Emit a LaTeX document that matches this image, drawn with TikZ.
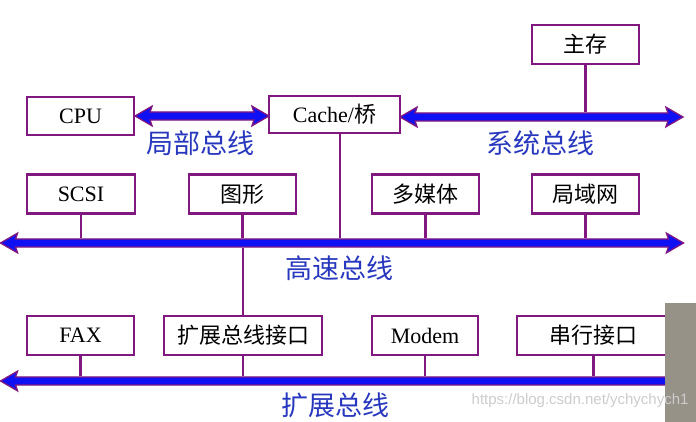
\documentclass[tikz,border=0pt]{standalone}
\usepackage{fontspec}
\setmainfont{Liberation Serif}
\newfontfamily\cjk{Noto Sans CJK SC}
\newfontfamily\wmark{Liberation Sans}
\usetikzlibrary{shapes.arrows,positioning}

\definecolor{edgepurple}{RGB}{128,24,128}
\definecolor{busfill}{RGB}{16,16,245}
\definecolor{labelblue}{RGB}{40,56,190}
\definecolor{camgray}{RGB}{150,146,136}

\tikzset{
  unit/.style={draw=edgepurple, line width=2.6pt, fill=white, minimum height=38pt, inner sep=0pt, font=\fontsize{22}{22}\selectfont},
  bus/.style={double arrow, draw=edgepurple, line width=1.3pt, fill=busfill, inner xsep=0pt, inner ysep=3.4pt,
    double arrow head extend=5.8pt, double arrow tip angle=60, double arrow head indent=2pt},
  busname/.style={text=labelblue, font=\cjk\fontsize{27}{27}\selectfont},
  link/.style={edgepurple, line width=2.4pt}
}

\begin{document}
\begin{tikzpicture}[x=1pt, y=-1pt]
\useasboundingbox (0,0) rectangle (696,422);
% boxes
\node[unit, minimum width=107pt, minimum height=39pt] (mem) at (585.5,44.5) {\cjk 主存};
\node[unit, minimum width=107pt] (cpu) at (80.5,116) {CPU};
\node[unit, minimum width=131pt, minimum height=37pt] (cache) at (334.5,114.5) {Cache/{\cjk 桥}};
\node[unit, minimum width=108pt, minimum height=39pt] (scsi) at (81,194) {SCSI};
\node[unit, minimum width=107pt, minimum height=39pt] (tu) at (242.5,194) {\cjk 图形};
\node[unit, minimum width=107pt, minimum height=39pt] (media) at (425.5,194) {\cjk 多媒体};
\node[unit, minimum width=107pt, minimum height=39pt] (lan) at (585.5,194) {\cjk 局域网};
\node[unit, minimum width=107pt, minimum height=39pt] (fax) at (80.5,335.5) {FAX};
\node[unit, minimum width=158pt, minimum height=39pt] (ext) at (243,335.5) {\cjk 扩展总线接口};
\node[unit, minimum width=106pt, minimum height=39pt] (modem) at (425,335.5) {Modem};
\node[unit, minimum width=153pt, minimum height=39pt] (serial) at (593.5,335.5) {\cjk 串行接口};
% buses
\node[bus, minimum height=134pt] (lbus) at (202,116) {};
\node[bus, minimum height=283pt] (sbus) at (541.5,117) {};
\node[bus, minimum height=683pt] (hbus) at (342,243) {};
\node[bus, minimum height=683pt] (ebus) at (342,381) {};
% links
\draw[link] (mem.south) -- (mem.south |- sbus.90);
\draw[link] ([xshift=5.5pt]cache.south) -- ([xshift=5.5pt]cache.south |- hbus.90);
\foreach \n in {scsi,tu,media,lan}
  \draw[link] (\n.south) -- (\n.south |- hbus.90);
\draw[link] (ext.north) -- (ext.north |- hbus.270);
\foreach \n in {fax,ext,modem,serial}
  \draw[link] (\n.south) -- (\n.south |- ebus.90);
% bus names
\node[busname] (lname) at (200,143) {局部总线};
\node[busname] (sname) at (540,143) {系统总线};
\node[busname] (hname) at (339,268) {高速总线};
\node[busname] (ename) at (335,405) {扩展总线};
% webcam corner and watermark
\fill[camgray] (665,303) rectangle (696,422);
\node[anchor=east, text=gray!40, font=\wmark\fontsize{15}{15}\selectfont] (mark) at (692,401) {https://blog.csdn.net/ychychych1};
\end{tikzpicture}
\end{document}
